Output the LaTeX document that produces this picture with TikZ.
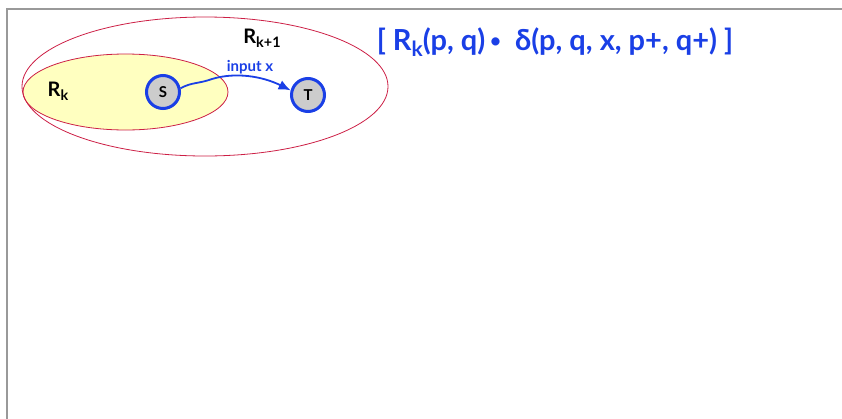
\documentclass[tikz,border=0pt]{standalone}
\usepackage{fontspec}
\setsansfont{Lato}
\usetikzlibrary{arrows.meta,positioning}
\definecolor{framegray}{HTML}{999999}
\definecolor{setred}{HTML}{CC1F45}
\definecolor{setyellow}{HTML}{FFFFC0}
\definecolor{stateblue}{HTML}{1A3FE6}
\definecolor{stategray}{HTML}{CCCCCC}
\newcommand{\lowsub}[1]{\raisebox{-0.4ex}{\scalebox{0.72}{#1}}}
\newcommand{\dotop}{\raisebox{0.2ex}{\scalebox{0.65}{\textbullet}}}
\tikzset{
  frameline/.style={framegray, line width=2pt},
  setline/.style={setred, line width=0.8pt},
  state/.style={circle, draw=stateblue, fill=stategray, line width=3pt, minimum size=33pt, inner sep=0pt, font=\sffamily\bfseries\fontsize{15}{15}\selectfont},
  setlabel/.style={font=\sffamily\bfseries\fontsize{20}{20}\selectfont},
  inputarrow/.style={stateblue, line width=1.8pt, -{Latex[length=12pt,width=10pt]}},
  edgelabel/.style={stateblue, font=\sffamily\bfseries\fontsize{15}{15}\selectfont},
  formula/.style={stateblue, font=\sffamily\bfseries\fontsize{29}{29}\selectfont}
}
\begin{document}
\begin{tikzpicture}[x=1pt,y=-1pt]
  \useasboundingbox (0,0) rectangle (842,418);
  \draw[frameline] (7,419) -- (7,9) -- (843,9);
  % the two regions
  \filldraw[setline, fill=setyellow] (125.5,92) ellipse [x radius=102.5, y radius=38];
  \draw[setline] (205,86.5) ellipse [x radius=183, y radius=69.5];
  \node[setlabel] (Rk) at (58,91) {R\lowsub{k}};
  \node[setlabel] (Rkk) at (262,38) {R\lowsub{k+1}};
  % states
  \node[state] (S) at (163,92) {S};
  \node[state] (T) at (308,95) {T};
  \draw[inputarrow] (S.12) .. controls (192,82) and (198,84) .. (212,79)
    .. controls (235,72) and (262,76) .. (T.165);
  \node[edgelabel] (inp) at (250,67) {input x};
  \node[formula] (rule) at (555,42) {[ R\lowsub{k}(p, q)\,\dotop\ \ δ(p, q, x, p+, q+) ]};
\end{tikzpicture}
\end{document}
